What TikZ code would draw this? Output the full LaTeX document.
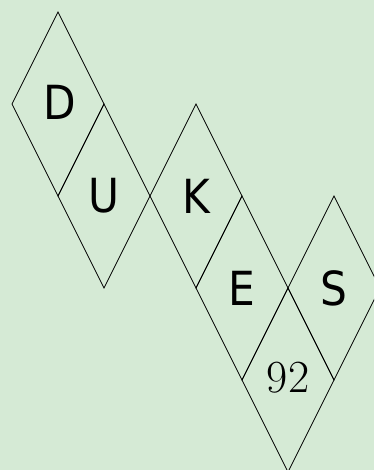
\documentclass[tikz,border=0pt]{standalone}
\usepackage{fontspec}
\newfontfamily\letterfont{DejaVu Sans Condensed}
\definecolor{bg}{RGB}{213,234,213}
\begin{document}
\begin{tikzpicture}[x=1pt,y=-1pt,
  dia/.style={draw=black,line width=0.8pt,line join=miter},
  lett/.style={inner sep=0pt,font=\letterfont\fontsize{47}{47}\selectfont},
  numb/.style={inner sep=0pt,font=\fontsize{46}{46}\selectfont}]
\fill[bg] (0,0) rectangle (374,470);
\useasboundingbox (0,0) rectangle (374,470);
\clip (0,0) rectangle (374,470);
\foreach \n/\x/\y in {d/58/104,u/104/196,k/196/196,e/242/288,s/334/288,n/288/380}{
  \coordinate (\n) at (\x,\y);
  \draw[dia] (\x,\y-92) -- (\x+46,\y) -- (\x,\y+92) -- (\x-46,\y) -- cycle;
}
\node[lett] (D) at ([xshift=2pt,yshift=2pt]d) {D};
\node[lett] (U) at (u) {U};
\node[lett] (K) at (k) {K};
\node[lett] (E) at (e) {E};
\node[lett] (S) at (s) {S};
\node[numb] (N) at ([yshift=2pt]n) {92};
\end{tikzpicture}
\end{document}
